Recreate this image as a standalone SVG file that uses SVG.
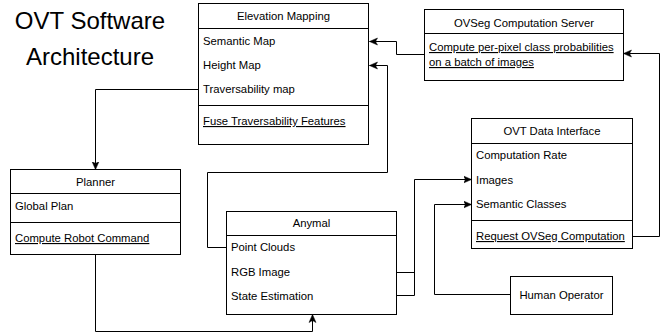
<svg xmlns="http://www.w3.org/2000/svg" width="668" height="334" viewBox="0 0 668 334">
<style>
.box{fill:#fff;stroke:#000;stroke-width:1}
.sep{stroke:#000;stroke-width:1}
.t{font-family:"Liberation Sans",Arial,sans-serif;font-size:11.3px;fill:#000}
.c{text-anchor:middle}
.u{text-decoration:underline}
.title{font-family:"Liberation Sans",Arial,sans-serif;font-size:24px;fill:#000;text-anchor:middle}
.e{fill:none;stroke:#000;stroke-width:1}
</style>
<defs>
<marker id="arr" markerUnits="userSpaceOnUse" markerWidth="10" markerHeight="10" viewBox="0 0 10 10" refX="8" refY="5" orient="auto">
<path d="M0,1.5 L8,5 L0,8.5 L2,5 Z" fill="#000" stroke="#000" stroke-width="0.5"/>
</marker>
</defs>
<g id="title">
<text class="title" x="90" y="29">OVT Software</text>
<text class="title" x="90" y="65">Architecture</text>
</g>
<g id="connectors">
<polyline class="e" points="424.5,54.5 396.5,54.5 396.5,41.5 369.5,41.5" marker-end="url(#arr)"/>
<polyline class="e" points="226.5,247.5 207.5,247.5 207.5,172.5 387.5,172.5 387.5,65.5 369.5,65.5" marker-end="url(#arr)"/>
<polyline class="e" points="198.5,89.5 95.5,89.5 95.5,169.5" marker-end="url(#arr)"/>
<polyline class="e" points="95.5,254.5 95.5,331.5 312.5,331.5 312.5,314.5" marker-end="url(#arr)"/>
<polyline class="e" points="396.5,272.5 414.5,272.5"/>
<polyline class="e" points="396.5,295.5 414.5,295.5 414.5,179.5 471.5,179.5" marker-end="url(#arr)"/>
<polyline class="e" points="510.5,294.5 434.5,294.5 434.5,204.5 471.5,204.5" marker-end="url(#arr)"/>
<polyline class="e" points="632.5,236.5 659.5,236.5 659.5,53.5 623.5,53.5" marker-end="url(#arr)"/>
</g>
<g id="elevation-mapping">
<rect class="box" x="198.5" y="3.5" width="170" height="141"/>
<line class="sep" x1="198.5" y1="28.5" x2="368.5" y2="28.5"/>
<line class="sep" x1="198.5" y1="105.5" x2="368.5" y2="105.5"/>
<text class="t c" x="283.5" y="20">Elevation Mapping</text>
<text class="t" x="203" y="45">Semantic Map</text>
<text class="t" x="203" y="69">Height Map</text>
<text class="t" x="203" y="93">Traversability map</text>
<text class="t u" x="203" y="125">Fuse Traversability Features</text>
</g>
<g id="ovseg-server">
<rect class="box" x="424.5" y="9.5" width="199" height="71"/>
<line class="sep" x1="424.5" y1="33.5" x2="623.5" y2="33.5"/>
<text class="t c" x="524" y="27">OVSeg Computation Server</text>
<text class="t u" x="429" y="51">Compute per-pixel class probabilities</text>
<text class="t u" x="429" y="66">on a batch of images</text>
</g>
<g id="ovt-data-interface">
<rect class="box" x="471.5" y="118.5" width="161" height="130"/>
<line class="sep" x1="471.5" y1="143.5" x2="632.5" y2="143.5"/>
<line class="sep" x1="471.5" y1="220.5" x2="632.5" y2="220.5"/>
<text class="t c" x="552" y="135">OVT Data Interface</text>
<text class="t" x="476" y="159">Computation Rate</text>
<text class="t" x="476" y="184">Images</text>
<text class="t" x="476" y="208">Semantic Classes</text>
<text class="t u" x="476" y="240">Request OVSeg Computation</text>
</g>
<g id="planner">
<rect class="box" x="10.5" y="169.5" width="170" height="85"/>
<line class="sep" x1="10.5" y1="193.5" x2="180.5" y2="193.5"/>
<line class="sep" x1="10.5" y1="222.5" x2="180.5" y2="222.5"/>
<text class="t c" x="95.5" y="186">Planner</text>
<text class="t" x="15" y="210">Global Plan</text>
<text class="t u" x="15" y="242">Compute Robot Command</text>
</g>
<g id="anymal">
<rect class="box" x="226.5" y="211.5" width="170" height="103"/>
<line class="sep" x1="226.5" y1="235.5" x2="396.5" y2="235.5"/>
<text class="t c" x="311.5" y="227">Anymal</text>
<text class="t" x="231" y="251">Point Clouds</text>
<text class="t" x="231" y="276">RGB Image</text>
<text class="t" x="231" y="300">State Estimation</text>
</g>
<g id="human-operator">
<rect class="box" x="510.5" y="276.5" width="102" height="38"/>
<text class="t c" x="561.5" y="299">Human Operator</text>
</g>
</svg>
